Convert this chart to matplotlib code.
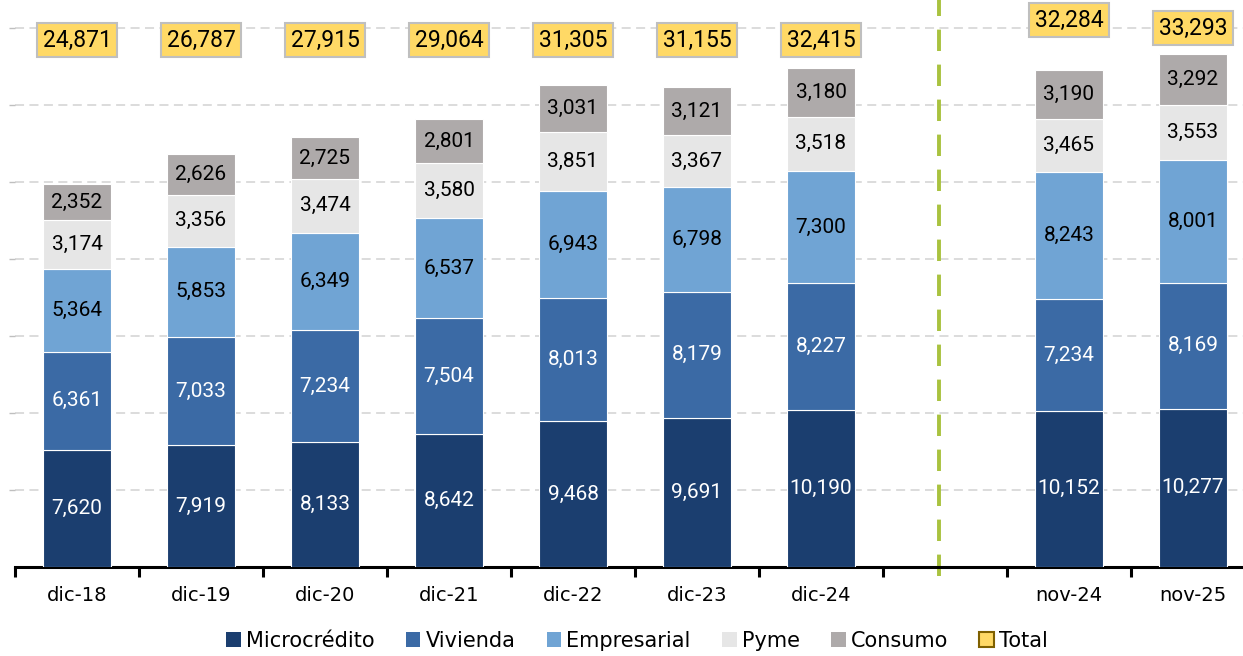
import matplotlib
matplotlib.use("Agg")
import matplotlib.pyplot as plt
from matplotlib.patches import Patch

categories = ['dic-18', 'dic-19', 'dic-20', 'dic-21', 'dic-22', 'dic-23', 'dic-24', 'nov-24', 'nov-25']
micro = [7620, 7919, 8133, 8642, 9468, 9691, 10190, 10152, 10277]
vivienda = [6361, 7033, 7234, 7504, 8013, 8179, 8227, 7234, 8169]
empresarial = [5364, 5853, 6349, 6537, 6943, 6798, 7300, 8243, 8001]
pyme = [3174, 3356, 3474, 3580, 3851, 3367, 3518, 3465, 3553]
consumo = [2352, 2626, 2725, 2801, 3031, 3121, 3180, 3190, 3292]
total = [24871, 26787, 27915, 29064, 31305, 31155, 32415, 32284, 33293]
series_names = ['Microcrédito', 'Vivienda', 'Empresarial', 'Pyme', 'Consumo']

colors = ['#1b3e6f', '#3b6aa5', '#70a4d4', '#e6e6e6', '#aeaaaa']
label_colors = ['white', 'white', 'black', 'black', 'black']
plt.rcParams['font.family'] = ['DejaVu Sans']
NUMFONT = ['Roboto', 'DejaVu Sans']

W, H = 1243, 656
fig = plt.figure(figsize=(W / 100, H / 100), dpi=100)
left_px, bottom_px = 15, 567
ax = fig.add_axes([left_px / W, (H - bottom_px) / H, (W - left_px) / W, bottom_px / H])

# slot positions: 7 annual bars, one empty slot, then 2 monthly bars
xpos = list(range(7)) + [8, 9]
unit_px = 124.0
px_per_val = 77 / 5000

bar_w = 0.555
bottoms = [0] * len(xpos)
for vals, col, lc in zip([micro, vivienda, empresarial, pyme, consumo], colors, label_colors):
    ax.bar(xpos, vals, bar_w, bottom=bottoms, color=col, edgecolor='white', linewidth=0.8, zorder=3)
    for x, b, v in zip(xpos, bottoms, vals):
        ax.text(x, b + v / 2, f'{v:,}', ha='center', va='center', color=lc, fontsize=15,
                family=NUMFONT, zorder=4)
    bottoms = [b + v for b, v in zip(bottoms, vals)]

# total labels in yellow boxes
label_y_px = [40, 40, 40, 40, 40, 40, 40, 20, 28]
for x, t, ypx in zip(xpos, total, label_y_px):
    ax.text(x, (bottom_px - ypx) / px_per_val, f'{t:,}', ha='center', va='center', fontsize=16.5,
            family=NUMFONT, color='black', zorder=5,
            bbox=dict(boxstyle='square,pad=0.26', facecolor='#ffd966', edgecolor='#bfbfbf', linewidth=1.5))

# gridlines
for gv in range(5000, 35001, 5000):
    ax.axhline(gv, color='#d9d9d9', linestyle=(0, (5, 3)), linewidth=1.3, zorder=1)

# separator line
ax.axvline(6.95, ymin=-0.015, ymax=1, color='#a9c23f', linestyle=(0, (5.5, 3.5)), linewidth=2.8,
           zorder=2, clip_on=False)

for s in ['top', 'right', 'left']:
    ax.spines[s].set_visible(False)
ax.spines['bottom'].set_linewidth(2.2)
ax.spines['bottom'].set_color('black')

ax.set_xticks(xpos)
ax.set_xticklabels(categories, fontsize=14)
ax.tick_params(axis='x', which='major', length=0, pad=14)
ax.set_xticks([i - 0.5 for i in range(11)], minor=True)
ax.tick_params(axis='x', which='minor', length=7, width=2.2, color='black', direction='out')

ax.set_yticks(range(5000, 35001, 5000))
ax.set_yticklabels([])
ax.tick_params(axis='y', length=4, width=1, color='#bfbfbf', direction='out')

ax.set_xlim(-0.5, -0.5 + (W - left_px) / unit_px)
ax.set_ylim(0, bottom_px / px_per_val)

handles = [Patch(facecolor=c, edgecolor='none') for c in colors]
handles.append(Patch(facecolor='#ffd966', edgecolor='#7f6000', linewidth=1.5))
leg = fig.legend(handles, series_names + ['Total'], loc='center', bbox_to_anchor=(637 / W, 1 - 641 / H),
                 ncol=6, frameon=False, fontsize=15, handlelength=0.7, handleheight=0.7,
                 handletextpad=0.25, columnspacing=1.5)

fig.savefig('out.png', dpi=100)
